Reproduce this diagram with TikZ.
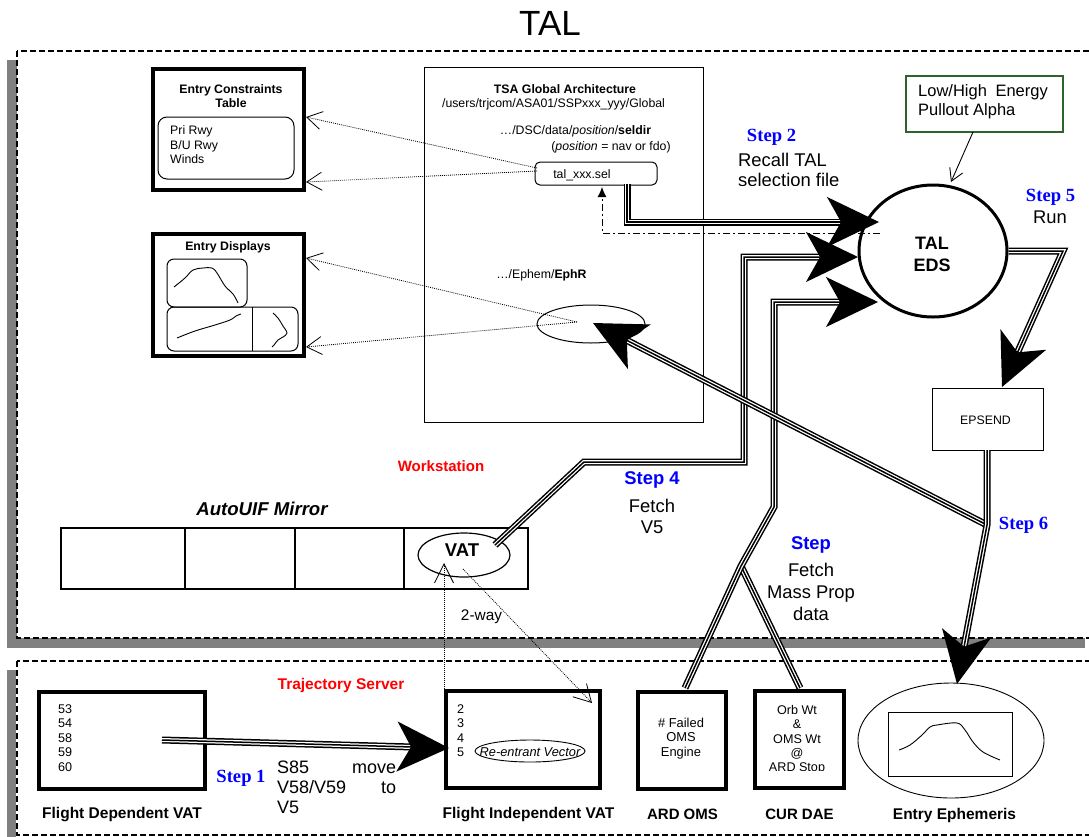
\documentclass[tikz,border=0pt]{standalone}
\usepackage{fontspec}
\setmainfont{Liberation Sans}
\newfontfamily\tnr{Liberation Serif}
\usetikzlibrary{arrows.meta,shapes.geometric}
\newcommand\myfs[2]{\fontsize{#1}{#2}\selectfont}
\definecolor{shadowgray}{RGB}{128,128,128}
\definecolor{stepblue}{RGB}{0,0,255}
\definecolor{wsred}{RGB}{255,0,0}
\definecolor{boxgreen}{RGB}{45,100,45}
\begin{document}
\begin{tikzpicture}[x=1pt,y=-1pt,
  heavybox/.style={draw, line width=3.8pt, rectangle, inner sep=0pt},
  thinbox/.style={draw, line width=1pt, rectangle, inner sep=0pt},
  roundbox/.style={draw, line width=1pt, rectangle, rounded corners=8pt, inner sep=0pt},
  oval/.style={draw, ellipse, inner sep=0pt, line width=1pt},
  txt/.style={inner sep=0pt, font=\myfs{12.3}{14.5}},
  mtxt/.style={inner sep=0pt},
  steptnr/.style={inner sep=0pt, font=\tnr\bfseries\myfs{18.6}{20}, text=stepblue},
  stepsans/.style={inner sep=0pt, font=\bfseries\myfs{18.4}{21}, text=stepblue},
  lbl/.style={inner sep=0pt, font=\bfseries\myfs{15.5}{17}},
  panel/.style={fill=white, draw=black, line width=1.3pt, dash pattern=on 6pt off 3pt},
  tri/.style={line width=1.5pt,
    preaction={draw=black, line width=7pt, arrows=-, shorten >=#1},
    preaction={draw=white, line width=4pt, arrows=-, shorten >=#1}},
  tri/.default=0pt,
  bighead/.style={-{Stealth[length=52pt,width=50pt,inset=14pt]}},
  dotline/.style={line width=0.8pt, dash pattern=on 0.9pt off 1.1pt, -{Straight Barb[length=15pt,width=18pt]}},
  curve/.style={line width=0.9pt}
]
\useasboundingbox (0,0) rectangle (1089,836);

% panels
\fill[shadowgray] (7,60) rectangle (1085,648);
\filldraw[panel] (17,51) rectangle (1100,638);
\fill[shadowgray] (7,670) rectangle (16,840);
\filldraw[panel] (17,661) rectangle (1100,835);

% title
\node[inner sep=0pt, font=\myfs{35}{40}] (title) at (550,23) {TAL};

% Entry Constraints Table
\node[heavybox, minimum width=151pt, minimum height=121pt] (ect) at (228.5,129.5) {};
\node[mtxt, font=\bfseries\myfs{12.3}{13.5}, align=center] (ecttitle) at (231,96) {Entry Constraints\\Table};
\node[roundbox, minimum width=136pt, minimum height=62pt, rounded corners=9pt] (ectin) at (226,148) {};
\node[mtxt, font=\myfs{12.3}{14.5}, anchor=west, align=left] (ecttext) at (170,145) {Pri Rwy\\B/U Rwy\\Winds};

% Entry Displays
\node[heavybox, minimum width=151pt, minimum height=122pt] (ed) at (228.5,295) {};
\node[txt, font=\bfseries\myfs{12.3}{13.5}] (edtitle) at (228,247) {Entry Displays};
\node[roundbox, minimum width=80pt, minimum height=48pt, rounded corners=7pt] (edtop) at (207,283) {};
\node[roundbox, minimum width=131pt, minimum height=44pt, rounded corners=7pt] (edbot) at (232.5,329) {};
\draw[line width=1pt] (252,307) -- (252,351);
\draw[curve] plot[smooth, tension=0.6] coordinates {(174,287) (185,278) (193,270) (203,268) (212,268) (217,273) (225,286) (233,294) (238,303)};
\draw[curve] plot[smooth, tension=0.6] coordinates {(177,338) (195,331) (215,325) (230,320) (236,316) (241,314)};
\draw[curve] plot[smooth, tension=0.6] coordinates {(273,313) (278,318) (283,326) (287,333) (283,337) (278,340) (274,345) (272,347)};

% TSA Global Architecture
\node[thinbox, minimum width=279pt, minimum height=355pt] (tsa) at (563.5,244.5) {};
\node[txt, font=\bfseries\myfs{12.3}{14}] (tsatitle) at (565,89) {TSA Global Architecture};
\node[txt] (tsapath) at (553.5,104) {/users/trjcom/ASA01/SSPxxx\_yyy/Global};
\node[txt] (seldir) at (575.5,131) {…/DSC/data/\textit{position}/\textbf{seldir}};
\node[txt] (posnote) at (611,147) {(\textit{position} = nav or fdo)};
\node[roundbox, minimum width=122pt, minimum height=23pt, rounded corners=5pt] (tal) at (596,173.5) {};
\node[txt] (taltext) at (582,175) {tal\_xxx.sel};
\node[txt] (ephr) at (541.5,275) {…/Ephem/\textbf{EphR}};
\node[oval, minimum width=108pt, minimum height=38pt] (ephell) at (591,324) {};

% Low/High box
\node[draw=boxgreen, line width=1.3pt, rectangle, inner sep=0pt, minimum width=157pt, minimum height=56pt] (lowhigh) at (984.5,104) {};
\node[mtxt, font=\myfs{16.5}{19}, anchor=west, align=left] (lhtext) at (918,102) {Low/High\hspace{4pt} Energy\\Pullout Alpha};

% TAL EDS
\node[draw, ellipse, line width=3pt, inner sep=0pt, minimum width=148pt, minimum height=132pt] (eds) at (933,251) {};
\node[mtxt, font=\bfseries\myfs{18}{22}, align=center] (edstext) at (932,254) {TAL\\EDS};

% step 2 / step 5 labels
\node[steptnr] (step2) at (771.5,137) {Step 2};
\begin{scope}
  \clip (720,140) rectangle (880,185.5);
  \node[mtxt, font=\myfs{18.4}{20}, anchor=west, align=left] (recall) at (738,170) {Recall TAL\\selection file};
\end{scope}
\node[steptnr] (step5) at (1050.5,197) {Step 5};
\node[txt, font=\myfs{18.4}{20}] (run) at (1050,217) {Run};

% EPSEND
\node[thinbox, minimum width=111pt, minimum height=62pt] (epsend) at (987.5,419) {};
\node[txt] (epstext) at (985.5,420) {EPSEND};

% Workstation area
\node[txt, font=\bfseries\myfs{15}{17}, text=wsred] (ws) at (441,466) {Workstation};
\node[txt, font=\bfseries\itshape\myfs{18.6}{20}] (autouif) at (262,509) {AutoUIF Mirror};
\node[draw, line width=1.2pt, rectangle, inner sep=0pt, minimum width=467pt, minimum height=61pt] (mirror) at (294.5,558.5) {};
\foreach \xx in {185,295,404} \draw[line width=1.2pt] (\xx,528) -- (\xx,589);
\node[oval, line width=1.2pt, minimum width=92pt, minimum height=44pt] (vat) at (464,555) {};
\node[txt, font=\bfseries\myfs{18.5}{20}] (vattext) at (462,550) {VAT};
\node[txt, font=\myfs{15.4}{17}] (twoway) at (481.5,617) {2-way};

\node[stepsans] (step4) at (652,480) {Step 4};
\node[mtxt, font=\myfs{18.4}{21}, align=center] (fetchv5) at (652,516.5) {Fetch\\V5};
\node[stepsans] (stepm) at (811,545) {Step};
\node[mtxt, font=\myfs{18.4}{22}, align=center] (massprop) at (811,592) {Fetch\\Mass Prop\\data};
\node[steptnr] (step6) at (1023.5,525) {Step 6};

% Trajectory server area
\node[txt, font=\bfseries\myfs{15.5}{17}, text=wsred] (ts) at (341,685) {Trajectory Server};

\node[heavybox, minimum width=166pt, minimum height=97pt] (fdvat) at (122,740.5) {};
\node[mtxt, font=\myfs{12.6}{14.5}, anchor=west, align=left] (fdnums) at (58,738) {53\\54\\58\\59\\60};
\node[lbl] (fdlabel) at (122,815) {Flight Dependent VAT};

\node[heavybox, minimum width=154pt, minimum height=97pt] (fivat) at (523,739.5) {};
\node[mtxt, font=\myfs{12.6}{14.5}, anchor=west, align=left] (finums) at (457,730.5) {2\\3\\4\\5};
\node[oval, line width=0.9pt, minimum width=110pt, minimum height=22pt] (reentrant) at (530,751) {};
\node[txt, font=\itshape\myfs{12.8}{14}] (reentranttext) at (530,752) {Re-entrant Vector};
\node[lbl] (filabel) at (528.5,815) {Flight Independent VAT};

\node[steptnr] (step1) at (241,778) {Step 1};
\node[mtxt, font=\myfs{18}{20}, anchor=west, align=left] (s85) at (277,787) {\makebox[119pt][l]{S85\hfill move}\\\makebox[119pt][l]{V58/V59\hfill to}\\V5};

\node[heavybox, minimum width=88pt, minimum height=97pt] (ardoms) at (682,740.5) {};
\node[mtxt, font=\myfs{12.9}{14.5}, align=center] (ardtext) at (681,738.5) {\# Failed\\OMS\\Engine};
\node[lbl, font=\bfseries\myfs{15}{17}] (ardlabel) at (682.5,814) {ARD OMS};

\node[heavybox, minimum width=89pt, minimum height=97pt] (curdae) at (799.5,739.5) {};
\begin{scope}
  \clip (756,692) rectangle (843,770.5);
  \node[mtxt, font=\myfs{12.6}{14.3}, align=center] (curtext) at (797,740) {Orb Wt\\\&\\OMS Wt\\@\\ARD Stop};
\end{scope}
\node[lbl, font=\bfseries\myfs{15}{17}] (curlabel) at (799.5,814) {CUR DAE};

\node[oval, line width=0.9pt, minimum width=186pt, minimum height=115pt] (ephem) at (951,740.5) {};
\node[draw, line width=1pt, rectangle, inner sep=0pt, minimum width=124pt, minimum height=64pt] (ephplot) at (950,744) {};
\draw[curve] plot[smooth, tension=0.6] coordinates {(899,750) (910,745) (922,735) (930,727) (937,725) (957,723) (965,730) (973,742) (983,752) (1000,760)};
\node[lbl] (ephlabel) at (954.5,815) {Entry Ephemeris};

% named connector ends
\coordinate (talL1) at (537,168);
\coordinate (talL2) at (537,171);
\coordinate (ectT1) at (306,117);
\coordinate (ectT2) at (306,182);
\coordinate (ephC) at (577,322);
\coordinate (edT1) at (306,258);
\coordinate (edT2) at (306,347);
\coordinate (fiTL) at (444,689);
\coordinate (vatB) at (444,563);
\coordinate (vatS) at (463,569);
\coordinate (fiTR) at (592,703);
\coordinate (vatNE) at (495,545);
\coordinate (edsA) at (879,222);
\coordinate (edsB) at (858,257);
\coordinate (edsC) at (878,302);
\coordinate (talS) at (627,184);
\coordinate (talB) at (602,187);
\coordinate (edsD) at (880,233);
\coordinate (lhB) at (973,132);
\coordinate (edsT) at (951,182);
\coordinate (epsT) at (1002,387);
\coordinate (epsB) at (987,450);
\coordinate (jct6) at (987,525);
\coordinate (ephemT) at (957,684);
\coordinate (ephTip) at (593,323);
\coordinate (ardT) at (685,688);
\coordinate (curT) at (800,688);
\coordinate (jctM) at (741,566);
\coordinate (fdS) at (162,740);
\coordinate (fiW) at (449,748);

% dotted arrows
\draw[dotline] (talL1) -- (ectT1);
\draw[dotline] (talL2) -- (ectT2);
\draw[dotline] (ephC) -- (edT1);
\draw[dotline] (ephC) -- (edT2);
\draw[dotline, -{Straight Barb[length=19pt,width=19pt]}] (fiTL) -- (vatB);
\draw[dotline, -{Straight Barb[length=17pt,width=19pt]}] (vatS) -- (fiTR);

% thin arrows
\draw[line width=0.9pt, -{Straight Barb[length=12pt,width=14pt]}] (lhB) -- (edsT);
\draw[line width=0.9pt, dash pattern=on 7pt off 3pt on 2pt off 3pt, -{Latex[length=10pt,width=9pt]}] (edsD) -- (602,233) -- (talB);

% triple connectors
\draw[tri=36pt, bighead] (talS) -- (627,222) -- (edsA);
\draw[tri=36pt, bighead] (vatNE) -- (584,462) -- (744,462) -- (744,257) -- (edsB);
\draw[tri] (curT) -- (jctM);
\draw[tri=36pt, bighead] (ardT) -- (jctM) -- (774,507) -- (774,302) -- (edsC);
\draw[tri=36pt, bighead] (eds.east) -- (1063,251) -- (epsT);
\draw[tri=36pt, bighead] (jct6) -- (ephTip);
\draw[tri=36pt, bighead] (epsB) -- (jct6) -- (ephemT);
\draw[tri=36pt, bighead] (fdS) -- (fiW);

\end{tikzpicture}
\end{document}
